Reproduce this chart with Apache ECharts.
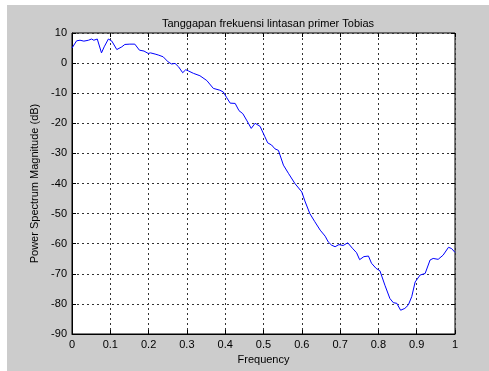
<!DOCTYPE html>
<html>
<head>
<meta charset="utf-8">
<script src="https://cdn.jsdelivr.net/npm/echarts@6/dist/echarts.min.js"></script>
<style>
  html, body { margin: 0; padding: 0; background: #ffffff; }
  #main { width: 489px; height: 371px; }
</style>
</head>
<body>
<div id="main"></div>
<script>
// frequency (normalised) and magnitude (dB)
var freq = [
  0.000, 0.012, 0.021, 0.031, 0.043, 0.051, 0.057, 0.066, 0.077, 0.084,
  0.095, 0.104, 0.117, 0.130, 0.138, 0.151, 0.164, 0.176, 0.188, 0.199,
  0.205, 0.217, 0.225, 0.238, 0.251, 0.260, 0.269, 0.278, 0.289, 0.297,
  0.304, 0.317, 0.334, 0.352, 0.369, 0.386, 0.395, 0.404, 0.413, 0.426,
  0.436, 0.446, 0.457, 0.468, 0.478, 0.491, 0.503, 0.511, 0.521, 0.530,
  0.539, 0.552, 0.565, 0.582, 0.600, 0.608, 0.621, 0.634, 0.648, 0.661,
  0.669, 0.678, 0.687, 0.697, 0.708, 0.720, 0.732, 0.743, 0.751, 0.762,
  0.774, 0.782, 0.794, 0.804, 0.817, 0.830, 0.839, 0.848, 0.858, 0.869,
  0.878, 0.887, 0.896, 0.909, 0.922, 0.935, 0.943, 0.956, 0.969, 0.983,
  0.991, 1.000
];
var magDb = [
  5.0, 7.4, 7.6, 7.3, 7.6, 8.0, 7.6, 8.0, 3.4, 5.4,
  8.0, 7.3, 4.5, 5.4, 6.2, 6.3, 6.3, 4.3, 4.0, 3.2,
  3.4, 3.0, 2.7, 2.1, 0.4, -0.3, -0.1, -1.2, -3.2, -2.2,
  -2.6, -3.4, -4.2, -5.8, -8.4, -9.0, -9.6, -11.5, -13.3, -13.4,
  -15.8, -16.8, -19.2, -21.7, -20.0, -21.0, -24.3, -26.5, -27.2, -28.5,
  -29.0, -33.9, -36.6, -40.0, -42.8, -45.8, -50.0, -52.7, -55.5, -57.5,
  -59.4, -60.5, -61.0, -60.3, -60.6, -59.7, -61.5, -63.0, -65.3, -64.3,
  -64.1, -66.5, -68.2, -69.0, -73.8, -78.2, -79.6, -79.8, -82.1, -81.5,
  -80.4, -77.6, -72.7, -70.4, -69.9, -65.4, -64.9, -65.2, -63.8, -61.2,
  -61.6, -62.9
];
var xTicks = { min: 0, max: 1, step: 0.1 };
var yTicks = { min: -90, max: 10, step: 10 };

var chartDom = document.getElementById('main');
var myChart = echarts.init(chartDom);

var points = freq.map(function (f, i) { return [f, magDb[i]]; });
var font = 'Liberation Sans, Arial, sans-serif';
var gridLine = { show: true, lineStyle: { color: '#333', type: [2, 3], width: 1 } };

var option = {
  animation: false,
  backgroundColor: '#cccccc',
  graphic: [
    { type: 'rect', left: 0, top: 0, shape: { width: 489, height: 5 }, style: { fill: '#fff' } },
    { type: 'rect', left: 0, top: 0, shape: { width: 7, height: 371 }, style: { fill: '#fff' } }
  ],
  title: {
    text: 'Tanggapan frekuensi lintasan primer Tobias',
    left: 263, top: 13,
    textAlign: 'center',
    textStyle: { fontFamily: font, fontSize: 11, fontWeight: 'normal', color: '#000' }
  },
  grid: {
    left: 72, top: 33, right: 34, bottom: 37,
    show: true, backgroundColor: '#fff', borderColor: '#000', borderWidth: 1
  },
  xAxis: [{
    type: 'value', min: xTicks.min, max: xTicks.max, interval: xTicks.step,
    name: 'Frequency', nameLocation: 'middle', nameGap: 20,
    nameTextStyle: { fontFamily: font, fontSize: 11, color: '#000' },
    axisLine: { show: true, onZero: false, lineStyle: { color: '#000' } },
    axisTick: { show: true, inside: true, length: 4, lineStyle: { color: '#000' } },
    axisLabel: { fontFamily: font, fontSize: 11, color: '#000', margin: 5 },
    splitLine: gridLine
  }, {
    type: 'value', position: 'top', min: xTicks.min, max: xTicks.max, interval: xTicks.step,
    axisLine: { show: false, onZero: false },
    axisTick: { show: true, inside: true, length: 4, lineStyle: { color: '#000' } },
    axisLabel: { show: false }, splitLine: { show: false }
  }],
  yAxis: [{
    type: 'value', min: yTicks.min, max: yTicks.max, interval: yTicks.step,
    name: 'Power Spectrum Magnitude (dB)', nameLocation: 'middle', nameGap: 22,
    nameTextStyle: { fontFamily: font, fontSize: 11, color: '#000' },
    axisLine: { show: true, onZero: false, lineStyle: { color: '#000' } },
    axisTick: { show: true, inside: true, length: 4, lineStyle: { color: '#000' } },
    axisLabel: { fontFamily: font, fontSize: 11, color: '#000', margin: 5 },
    splitLine: gridLine
  }, {
    type: 'value', position: 'right', min: yTicks.min, max: yTicks.max, interval: yTicks.step,
    axisLine: { show: false, onZero: false },
    axisTick: { show: true, inside: true, length: 4, lineStyle: { color: '#000' } },
    axisLabel: { show: false }, splitLine: { show: false }
  }],
  series: [{
    type: 'line',
    data: points,
    showSymbol: false,
    lineStyle: { color: '#0000ff', width: 1 },
    itemStyle: { color: '#0000ff' }
  }]
};

option && myChart.setOption(option);
</script>
</body>
</html>
